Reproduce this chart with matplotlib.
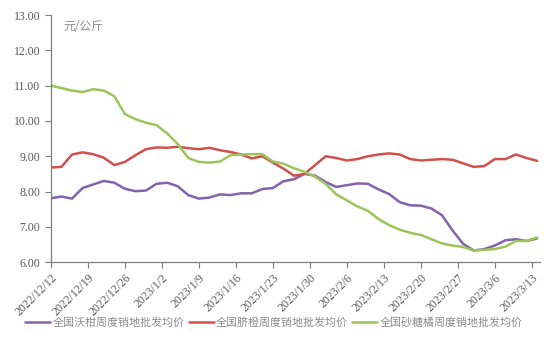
import matplotlib
matplotlib.use("Agg")
import matplotlib.pyplot as plt
import pandas as pd

plt.rcParams["font.family"] = ["Liberation Serif", "Noto Sans CJK SC", "DejaVu Sans"]

# sample dates, every 2 days from 2022/12/12
dates = pd.date_range("2022-12-12", periods=47, freq="2D")

wogan = [7.81, 7.86, 7.80, 8.10, 8.20, 8.30, 8.25, 8.08, 8.01, 8.03,
         8.22, 8.25, 8.15, 7.90, 7.80, 7.83, 7.92, 7.90, 7.95, 7.95,
         8.07, 8.10, 8.29, 8.35, 8.50, 8.45, 8.27, 8.13, 8.18, 8.23,
         8.22, 8.06, 7.93, 7.70, 7.61, 7.60, 7.52, 7.33, 6.90, 6.52,
         6.33, 6.37, 6.47, 6.62, 6.65, 6.60, 6.67]

qicheng = [8.68, 8.70, 9.05, 9.11, 9.06, 8.96, 8.75, 8.84, 9.03, 9.20,
           9.25, 9.24, 9.27, 9.23, 9.20, 9.24, 9.17, 9.12, 9.05, 8.94,
           9.00, 8.82, 8.65, 8.45, 8.50, 8.75, 9.00, 8.95, 8.88, 8.92,
           9.00, 9.05, 9.08, 9.05, 8.92, 8.88, 8.90, 8.92, 8.90, 8.80,
           8.70, 8.72, 8.92, 8.92, 9.05, 8.95, 8.87]

shatangju = [11.00, 10.93, 10.86, 10.82, 10.90, 10.86, 10.70, 10.20, 10.05, 9.95,
             9.88, 9.65, 9.35, 8.95, 8.84, 8.82, 8.85, 9.03, 9.05, 9.06,
             9.06, 8.85, 8.79, 8.66, 8.56, 8.42, 8.22, 7.92, 7.75, 7.58,
             7.45, 7.22, 7.05, 6.92, 6.83, 6.77, 6.65, 6.53, 6.47, 6.43,
             6.33, 6.35, 6.37, 6.44, 6.60, 6.60, 6.70]

series_names = ["全国沃柑周度销地批发均价", "全国脐橙周度销地批发均价", "全国砂糖橘周度销地批发均价"]
colors = ["#8462AE", "#D2504C", "#9DC45A"]

tick_dates = pd.date_range("2022-12-12", "2023-03-13", freq="7D")
tick_labels = [f"{d.year}/{d.month}/{d.day}" for d in tick_dates]
y_ticks = [6, 7, 8, 9, 10, 11, 12, 13]

fig = plt.figure(figsize=(5.53, 3.5), dpi=100)
ax = fig.add_axes([0.092, 0.251, 0.884, 0.706])

for vals, name, col in zip([wogan, qicheng, shatangju], series_names, colors):
    ax.plot(dates, vals, color=col, linewidth=1.8, label=name, solid_capstyle="round")

ax.set_xlim(dates[0], dates[0] + pd.Timedelta(days=92.5))
ax.set_ylim(6, 13)
ax.set_yticks(y_ticks)
ax.set_yticklabels([f"{v:.2f}" for v in y_ticks])
ax.set_xticks(tick_dates)
ax.set_xticklabels(tick_labels, rotation=45, ha="right", rotation_mode="anchor")

for side in ["top", "right"]:
    ax.spines[side].set_visible(False)
for side in ["left", "bottom"]:
    ax.spines[side].set_color("#7f7f7f")
    ax.spines[side].set_linewidth(0.9)
ax.tick_params(axis="both", colors="#7f7f7f", labelcolor="#595959", labelsize=8.5,
               length=4, width=0.8, direction="out")
ax.tick_params(axis="x", labelsize=8.5, pad=3)

ax.text(0.025, 0.98, "元/公斤", transform=ax.transAxes, fontsize=8.5,
        color="#8c8c8c", va="top", ha="left", family=["Noto Sans CJK SC", "DejaVu Sans"])

leg = fig.legend(loc="center", bbox_to_anchor=(0.495, 0.077), ncol=3, frameon=False,
                 handlelength=2.3, columnspacing=0.35, handletextpad=0.2,
                 prop={"family": ["Noto Sans CJK SC", "DejaVu Sans"], "size": 7.9})
for t in leg.get_texts():
    t.set_color("#8c8c8c")

fig.savefig("out.png", dpi=100)
